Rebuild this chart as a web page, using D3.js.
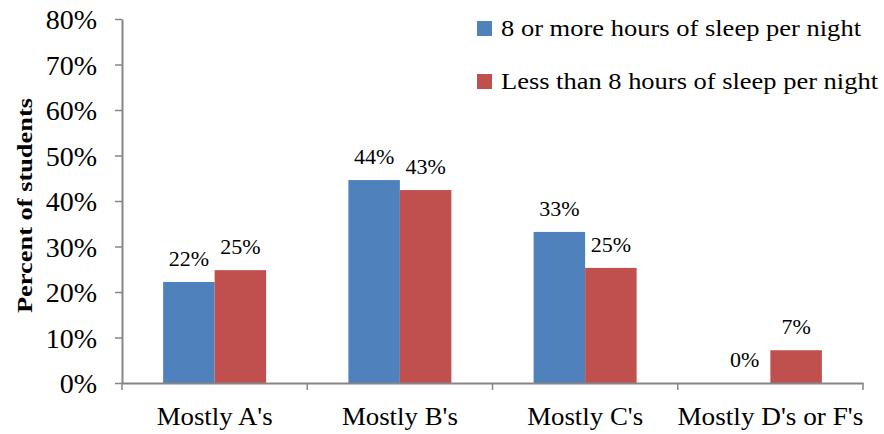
<!DOCTYPE html>
<html>
<head>
<meta charset="utf-8">
<script src="https://cdn.jsdelivr.net/npm/d3@7"></script>
<style>
  html, body { margin: 0; padding: 0; background: #fff; }
  svg { display: block; }
</style>
</head>
<body>
<svg id="chart" width="884" height="434"></svg>
<script>
const categories = ["Mostly A's", "Mostly B's", "Mostly C's", "Mostly D's or F's"];
const seriesNames = ["8 or more hours of sleep per night", "Less than 8 hours of sleep per night"];
const sleep8More = [22.2, 44.6, 33.2, 0];
const sleepLess8 = [24.8, 42.4, 25.3, 7.2];
const valueLabels8More = ["22%", "44%", "33%", "0%"];
const valueLabelsLess8 = ["25%", "43%", "25%", "7%"];
const yTicks = [0, 10, 20, 30, 40, 50, 60, 70, 80];
const colors = ["#4F81BD", "#C0504D"];

(function () {
const FONT = '"Liberation Serif", "Times New Roman", Times, serif';
const svg = d3.select("#chart");
const mLeft = 122, mRight = 863, mTop = 19, mBottom = 383;

const x = d3.scaleBand().domain(categories).range([mLeft, mRight]).paddingInner(0).paddingOuter(0);
const y = d3.scaleLinear().domain([0, 80]).range([mBottom, mTop]);
const barW = 51.5;
const sub = d3.scaleBand().domain([0, 1]).range([0, barW * 2]);

const series = [sleep8More, sleepLess8];
const labels = [valueLabels8More, valueLabelsLess8];

// Bars
series.forEach((vals, si) => {
  svg.append("g").selectAll("rect").data(categories).join("rect")
    .attr("x", (c) => x(c) + (x.bandwidth() - barW * 2) / 2 + sub(si))
    .attr("y", (c, i) => y(vals[i]))
    .attr("width", barW)
    .attr("height", (c, i) => mBottom - y(vals[i]))
    .attr("fill", colors[si]);
});

// Value labels
series.forEach((vals, si) => {
  svg.append("g").selectAll("text").data(categories).join("text")
    .attr("x", (c) => x(c) + (x.bandwidth() - barW * 2) / 2 + sub(si) + barW / 2)
    .attr("y", (c, i) => y(vals[i]) - 16)
    .attr("text-anchor", "middle")
    .style("font-family", FONT)
    .style("font-size", "22px")
    .attr("fill", "#000")
    .text((c, i) => labels[si][i]);
});

// Y axis
const yAxis = d3.axisLeft(y).tickValues(yTicks).tickFormat(d => d + "%").tickSize(7).tickSizeOuter(0);
const yg = svg.append("g").attr("transform", `translate(${mLeft},0)`).call(yAxis);
yg.select(".domain").attr("stroke", "#868686").attr("stroke-width", 2);
yg.selectAll(".tick line").attr("stroke", "#868686").attr("stroke-width", 1.5);
yg.selectAll(".tick text")
  .style("font-family", FONT)
  .style("font-size", "28px").attr("x", -25).attr("dy", "0.35em").attr("fill", "#000");

// X axis
const xAxis = d3.axisBottom(x).tickSize(0).tickSizeOuter(0);
const xg = svg.append("g").attr("transform", `translate(0,${mBottom})`).call(xAxis);
xg.select(".domain").attr("stroke", "#868686").attr("stroke-width", 2);
xg.selectAll(".tick text")
  .style("font-family", FONT)
  .style("font-size", "25px").attr("y", 42).attr("dy", 0).attr("fill", "#000")
  .attr("textLength", (d) => d === "Mostly D's or F's" ? 186 : 116)
  .attr("lengthAdjust", "spacingAndGlyphs");
// category separators
const seps = categories.map(c => x(c)).concat([mRight]);
xg.selectAll("line.sep").data(seps).join("line").attr("class", "sep")
  .attr("x1", d => d).attr("x2", d => d).attr("y1", 0).attr("y2", 7)
  .attr("stroke", "#868686").attr("stroke-width", 1.5);

// Y axis title
svg.append("text")
  .attr("transform", `translate(32,${(98 + 313) / 2}) rotate(-90)`)
  .attr("text-anchor", "middle")
  .style("font-family", FONT)
  .style("font-weight", "bold")
  .style("font-size", "21px")
  .attr("textLength", 215)
  .attr("lengthAdjust", "spacingAndGlyphs")
  .text("Percent of students");

// Legend
const legendY = [36, 89];
const legendW = [360, 377];
seriesNames.forEach((name, i) => {
  svg.append("rect").attr("x", 477).attr("y", legendY[i] - 15).attr("width", 15).attr("height", 15).attr("fill", colors[i]);
  svg.append("text").attr("x", 501).attr("y", legendY[i])
    .style("font-family", FONT).style("font-size", "23px")
    .attr("textLength", legendW[i]).attr("lengthAdjust", "spacingAndGlyphs").text(name);
});
})();
</script>
</body>
</html>
